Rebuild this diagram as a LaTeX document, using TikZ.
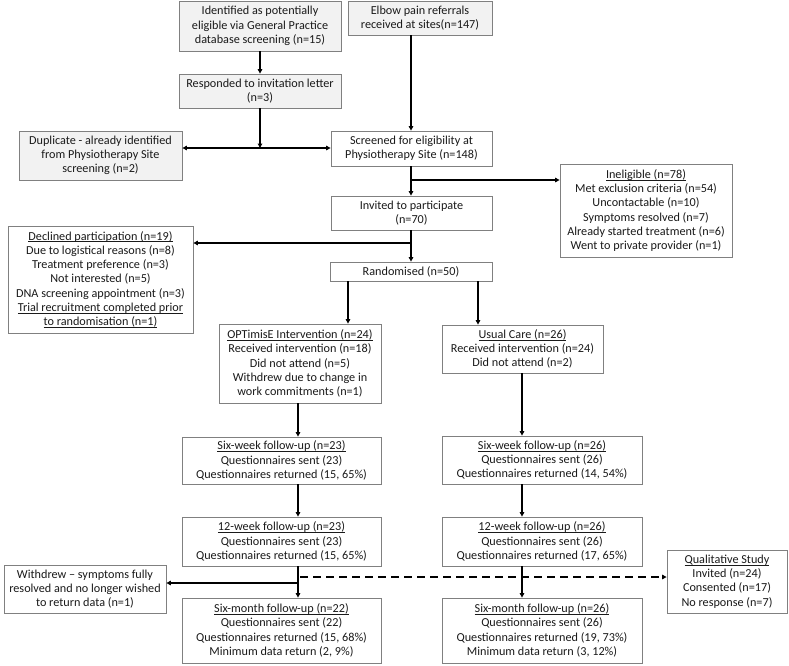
\documentclass[tikz,border=0pt]{standalone}
\usepackage{fontspec}
\setmainfont{Carlito}
\usetikzlibrary{arrows.meta}
\definecolor{boxgray}{HTML}{808080}
\definecolor{fillgray}{HTML}{F2F2F2}
\definecolor{txt}{HTML}{1A1A1A}
\newcommand{\myul}[1]{\setbox0\hbox{#1}\rlap{\vrule height -1.3pt depth 2.0pt width \wd0}\box0}
\begin{document}
\begin{tikzpicture}[x=1pt,y=-1pt,
  box/.style={draw=boxgray, line width=0.8pt, align=center, inner sep=0pt, fill=white, text=txt,
    font=\fontsize{12.2}{14.3}\selectfont},
  gbox/.style={box, fill=fillgray},
  arr/.style={line width=1.3pt, -{Triangle[length=4.5pt,width=4.5pt]}},
  darr/.style={line width=1.3pt, {Triangle[length=4.5pt,width=4.5pt]}-{Triangle[length=4.5pt,width=4.5pt]}},
  dasharr/.style={line width=1.3pt, dash pattern=on 8pt off 5pt, -{Triangle[length=4.5pt,width=4.5pt]}},
  plain/.style={line width=1.3pt}]
\useasboundingbox (0,0) rectangle (789,665);
% boxes
\node[gbox, minimum width=162, minimum height=50] (gp) at (260,26) {Identified as potentially\\eligible via General Practice\\database screening (n=15)};
\node[gbox, minimum width=144, minimum height=34] (elbow) at (420,18) {Elbow pain referrals\\received at sites(n=147)};
\node[gbox, minimum width=162, minimum height=34] (resp) at (260,91) {Responded to invitation letter\\(n=3)};
\node[gbox, minimum width=163, minimum height=49] (dup) at (100.5,155.5) {Duplicate - already identified\\from Physiotherapy Site\\screening (n=2)};
\node[box, minimum width=161, minimum height=35] (scr) at (411.5,148.5) {Screened for eligibility at\\Physiotherapy Site (n=148)};
\node[box, minimum width=161, minimum height=34] (inv) at (411.5,213) {Invited to participate\\(n=70)};
\node[box, minimum width=172, minimum height=93] (inel) at (646,210.5) {\myul{Ineligible (n=78)}\\Met exclusion criteria (n=54)\\Uncontactable (n=10)\\Symptoms resolved (n=7)\\Already started treatment (n=6)\\Went to private provider (n=1)};
\node[box, minimum width=185, minimum height=107] (decl) at (100.5,279.5) {\myul{Declined participation (n=19)}\\Due to logistical reasons (n=8)\\Treatment preference (n=3)\\Not interested (n=5)\\DNA screening appointment (n=3)\\\myul{Trial recruitment completed prior}\\\myul{to randomisation (n=1)}};
\node[box, minimum width=162, minimum height=19] (rand) at (411,271.5) {Randomised (n=50)};
\node[box, minimum width=162, minimum height=79] (opt) at (300,363.5) {\myul{OPTimisE Intervention (n=24)}\\Received intervention (n=18)\\Did not attend (n=5)\\Withdrew due to change in\\work commitments (n=1)};
\node[box, minimum width=161, minimum height=48] (uc) at (522.5,349) {\myul{Usual Care (n=26)}\\Received intervention (n=24)\\Did not attend (n=2)};
\node[box, minimum width=199, minimum height=47] (sw1) at (281.5,460.5) {\myul{Six-week follow-up (n=23)}\\Questionnaires sent (23)\\Questionnaires returned (15, 65\%)};
\node[box, minimum width=199, minimum height=49] (tw1) at (281.5,541.5) {\myul{12-week follow-up (n=23)}\\Questionnaires sent (23)\\Questionnaires returned (15, 65\%)};
\node[box, minimum width=162, minimum height=48] (wd) at (85,589) {Withdrew – symptoms fully\\resolved and no longer wished\\to return data (n=1)};
\node[box, minimum width=199, minimum height=65] (sm1) at (281.5,630.5) {\myul{Six-month follow-up (n=22)}\\Questionnaires sent (22)\\Questionnaires returned (15, 68\%)\\Minimum data return (2, 9\%)};
\node[box, minimum width=200, minimum height=48] (sw2) at (542,460) {\myul{Six-week follow-up (n=26)}\\Questionnaires sent (26)\\Questionnaires returned (14, 54\%)};
\node[box, minimum width=200, minimum height=49] (tw2) at (542,541.5) {\myul{12-week follow-up (n=26)}\\Questionnaires sent (26)\\Questionnaires returned (17, 65\%)};
\node[box, minimum width=200, minimum height=65] (sm2) at (542,630.5) {\myul{Six-month follow-up (n=26)}\\Questionnaires sent (26)\\Questionnaires returned (19, 73\%)\\Minimum data return (3, 12\%)};
\node[box, minimum width=120, minimum height=63] (qual) at (727,581.5) {\myul{Qualitative Study}\\Invited (n=24)\\Consented (n=17)\\No response (n=7)};
% helper coordinates
\coordinate (j1) at (260,148);
\coordinate (cM) at (411,0);
\coordinate (j2) at (411,180);
\coordinate (j3) at (411,243);
\coordinate (cA) at (348,0);
\coordinate (cB) at (478,0);
\coordinate (cL) at (298,0);
\coordinate (cR) at (522,0);
\coordinate (j4) at (298,583);
\coordinate (d0) at (300,577);
% connectors
\draw[arr] (gp.south) -- (resp.north);
\draw[arr] (resp.south) -- (j1);
\draw[darr] (dup.east |- j1) -- (scr.west |- j1);
\draw[arr] (elbow.south -| cM) -- (scr.north -| cM);
\draw[arr] (scr.south -| cM) -- (inv.north -| cM);
\draw[arr] (j2) -- (inel.west |- j2);
\draw[arr] (inv.south -| cM) -- (rand.north -| cM);
\draw[arr] (j3) -- (decl.east |- j3);
\draw[arr] (rand.south -| cA) -- (opt.north -| cA);
\draw[arr] (rand.south -| cB) -- (uc.north -| cB);
\draw[arr] (opt.south -| cL) -- (sw1.north -| cL);
\draw[arr] (sw1.south -| cL) -- (tw1.north -| cL);
\draw[arr] (tw1.south -| cL) -- (sm1.north -| cL);
\draw[arr] (j4) -- (wd.east |- j4);
\draw[arr] (uc.south -| cR) -- (sw2.north -| cR);
\draw[arr] (sw2.south -| cR) -- (tw2.north -| cR);
\draw[arr] (tw2.south -| cR) -- (sm2.north -| cR);
\draw[dasharr] (d0) -- (qual.west |- d0);
\end{tikzpicture}
\end{document}
